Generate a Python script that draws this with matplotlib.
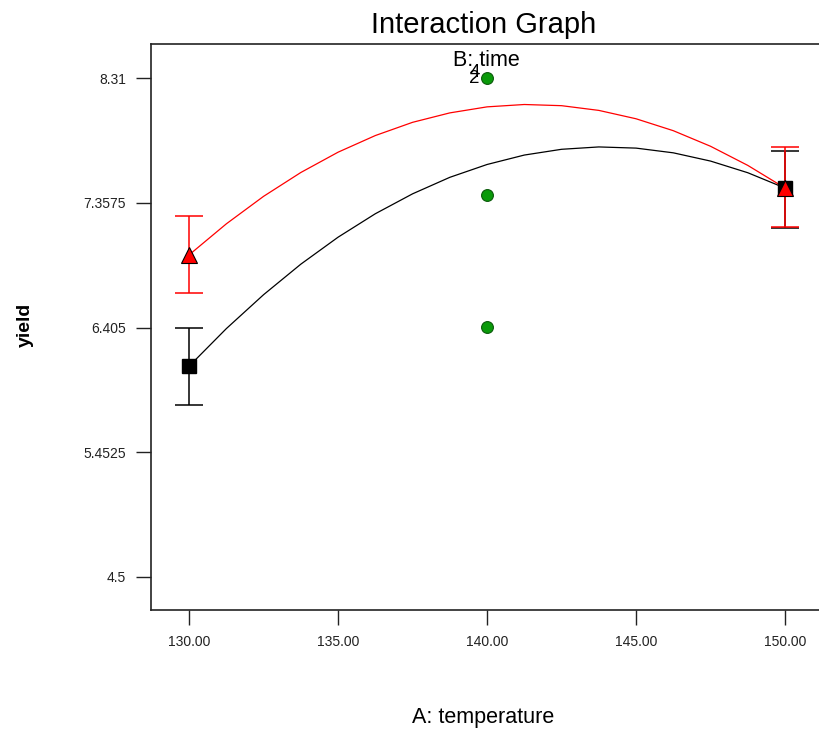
import matplotlib
matplotlib.use("Agg")
import matplotlib.pyplot as plt

# factor A levels and the end-point means with their error bars
temp_levels = [130.0, 150.0]
red_means = [6.96, 7.47]
red_lo = [6.67, 7.17]
red_hi = [7.26, 7.78]
black_means = [6.11, 7.47]
black_lo = [5.81, 7.165]
black_hi = [6.40, 7.755]

# model curves
curve_x = [130.0, 131.25, 132.5, 133.75, 135.0, 136.25, 137.5, 138.75, 140.0,
           141.25, 142.5, 143.75, 145.0, 146.25, 147.5, 148.75, 150.0]
red_curve = [6.96, 7.197, 7.407, 7.589, 7.744, 7.871, 7.972, 8.044, 8.09,
             8.108, 8.099, 8.063, 7.999, 7.908, 7.789, 7.643, 7.47]
black_curve = [6.11, 6.397, 6.656, 6.889, 7.095, 7.274, 7.426, 7.552, 7.65,
               7.722, 7.766, 7.784, 7.775, 7.739, 7.676, 7.587, 7.47]

# design points (centre runs)
pt_x = [140.0, 140.0, 140.0]
pt_y = [8.31, 7.42, 6.41]
pt_counts = ["2", "4"]

y_ticks = [4.5, 5.4525, 6.405, 7.3575, 8.31]
y_tick_labels = ["4.5", "5.4525", "6.405", "7.3575", "8.31"]
x_ticks = [130, 135, 140, 145, 150]
x_tick_labels = ["130.00", "135.00", "140.00", "145.00", "150.00"]

plt.rcParams["font.family"] = ["Liberation Sans", "DejaVu Sans"]

fig = plt.figure(figsize=(8.19, 7.31), dpi=100)
ax = fig.add_axes([151 / 819, 1 - 610 / 731, (819 - 151) / 819, (610 - 44) / 731])

ax.plot(curve_x, black_curve, color="black", lw=0.9, zorder=2)
ax.plot(curve_x, red_curve, color="#ff0000", lw=0.9, zorder=3)

for m, lo, hi, col in [(black_means, black_lo, black_hi, "black"), (red_means, red_lo, red_hi, "#ff0000")]:
    yerr = [[a - b for a, b in zip(m, lo)], [b - a for a, b in zip(m, hi)]]
    ax.errorbar(temp_levels, m, yerr=yerr, fmt="none", ecolor=col, elinewidth=1.1,
                capsize=10.3, capthick=1.1, zorder=4)

ax.plot(temp_levels, black_means, ls="none", marker="s", ms=9.5, mfc="black", mec="black", zorder=5)
ax.plot(temp_levels, red_means, ls="none", marker="^", ms=11, mfc="#ff0000", mec="black", mew=0.8, zorder=6)
ax.plot(pt_x, pt_y, ls="none", marker="o", ms=8.5, mfc="#0a9a0a", mec="#0b5a0b", mew=0.8, zorder=6)

ax.text(139.75, pt_y[0] - 0.005, pt_counts[0], ha="right", va="center", fontsize=13.5)
ax.text(139.75, pt_y[0] + 0.04, pt_counts[1], ha="right", va="center", fontsize=13.5)

ax.set_xlim(128.72, 151.14)
ax.set_ylim(4.248, 8.57)
ax.set_xticks(x_ticks)
ax.set_xticklabels(x_tick_labels, fontsize=10)
ax.set_yticks(y_ticks)
ax.set_yticklabels(y_tick_labels, fontsize=10)
ax.tick_params(direction="out", length=11, width=1, pad=7, colors="#222222")
ax.spines["right"].set_visible(False)
for s in ["left", "top", "bottom"]:
    ax.spines[s].set_linewidth(1.2)
    ax.spines[s].set_color("#222222")

fig.text(484 / 819, 1 - 25 / 731, "Interaction Graph", ha="center", va="center", fontsize=21)
fig.text(486 / 819, 1 - 60 / 731, "B: time", ha="center", va="center", fontsize=15.5)
fig.text(483 / 819, 1 - 718 / 731, "A: temperature", ha="center", va="center", fontsize=15.5)
fig.text(25 / 819, 1 - 325 / 731, "yield", ha="center", va="center", fontsize=14,
         rotation=90, fontweight="bold")

fig.savefig("out.png", dpi=100)
